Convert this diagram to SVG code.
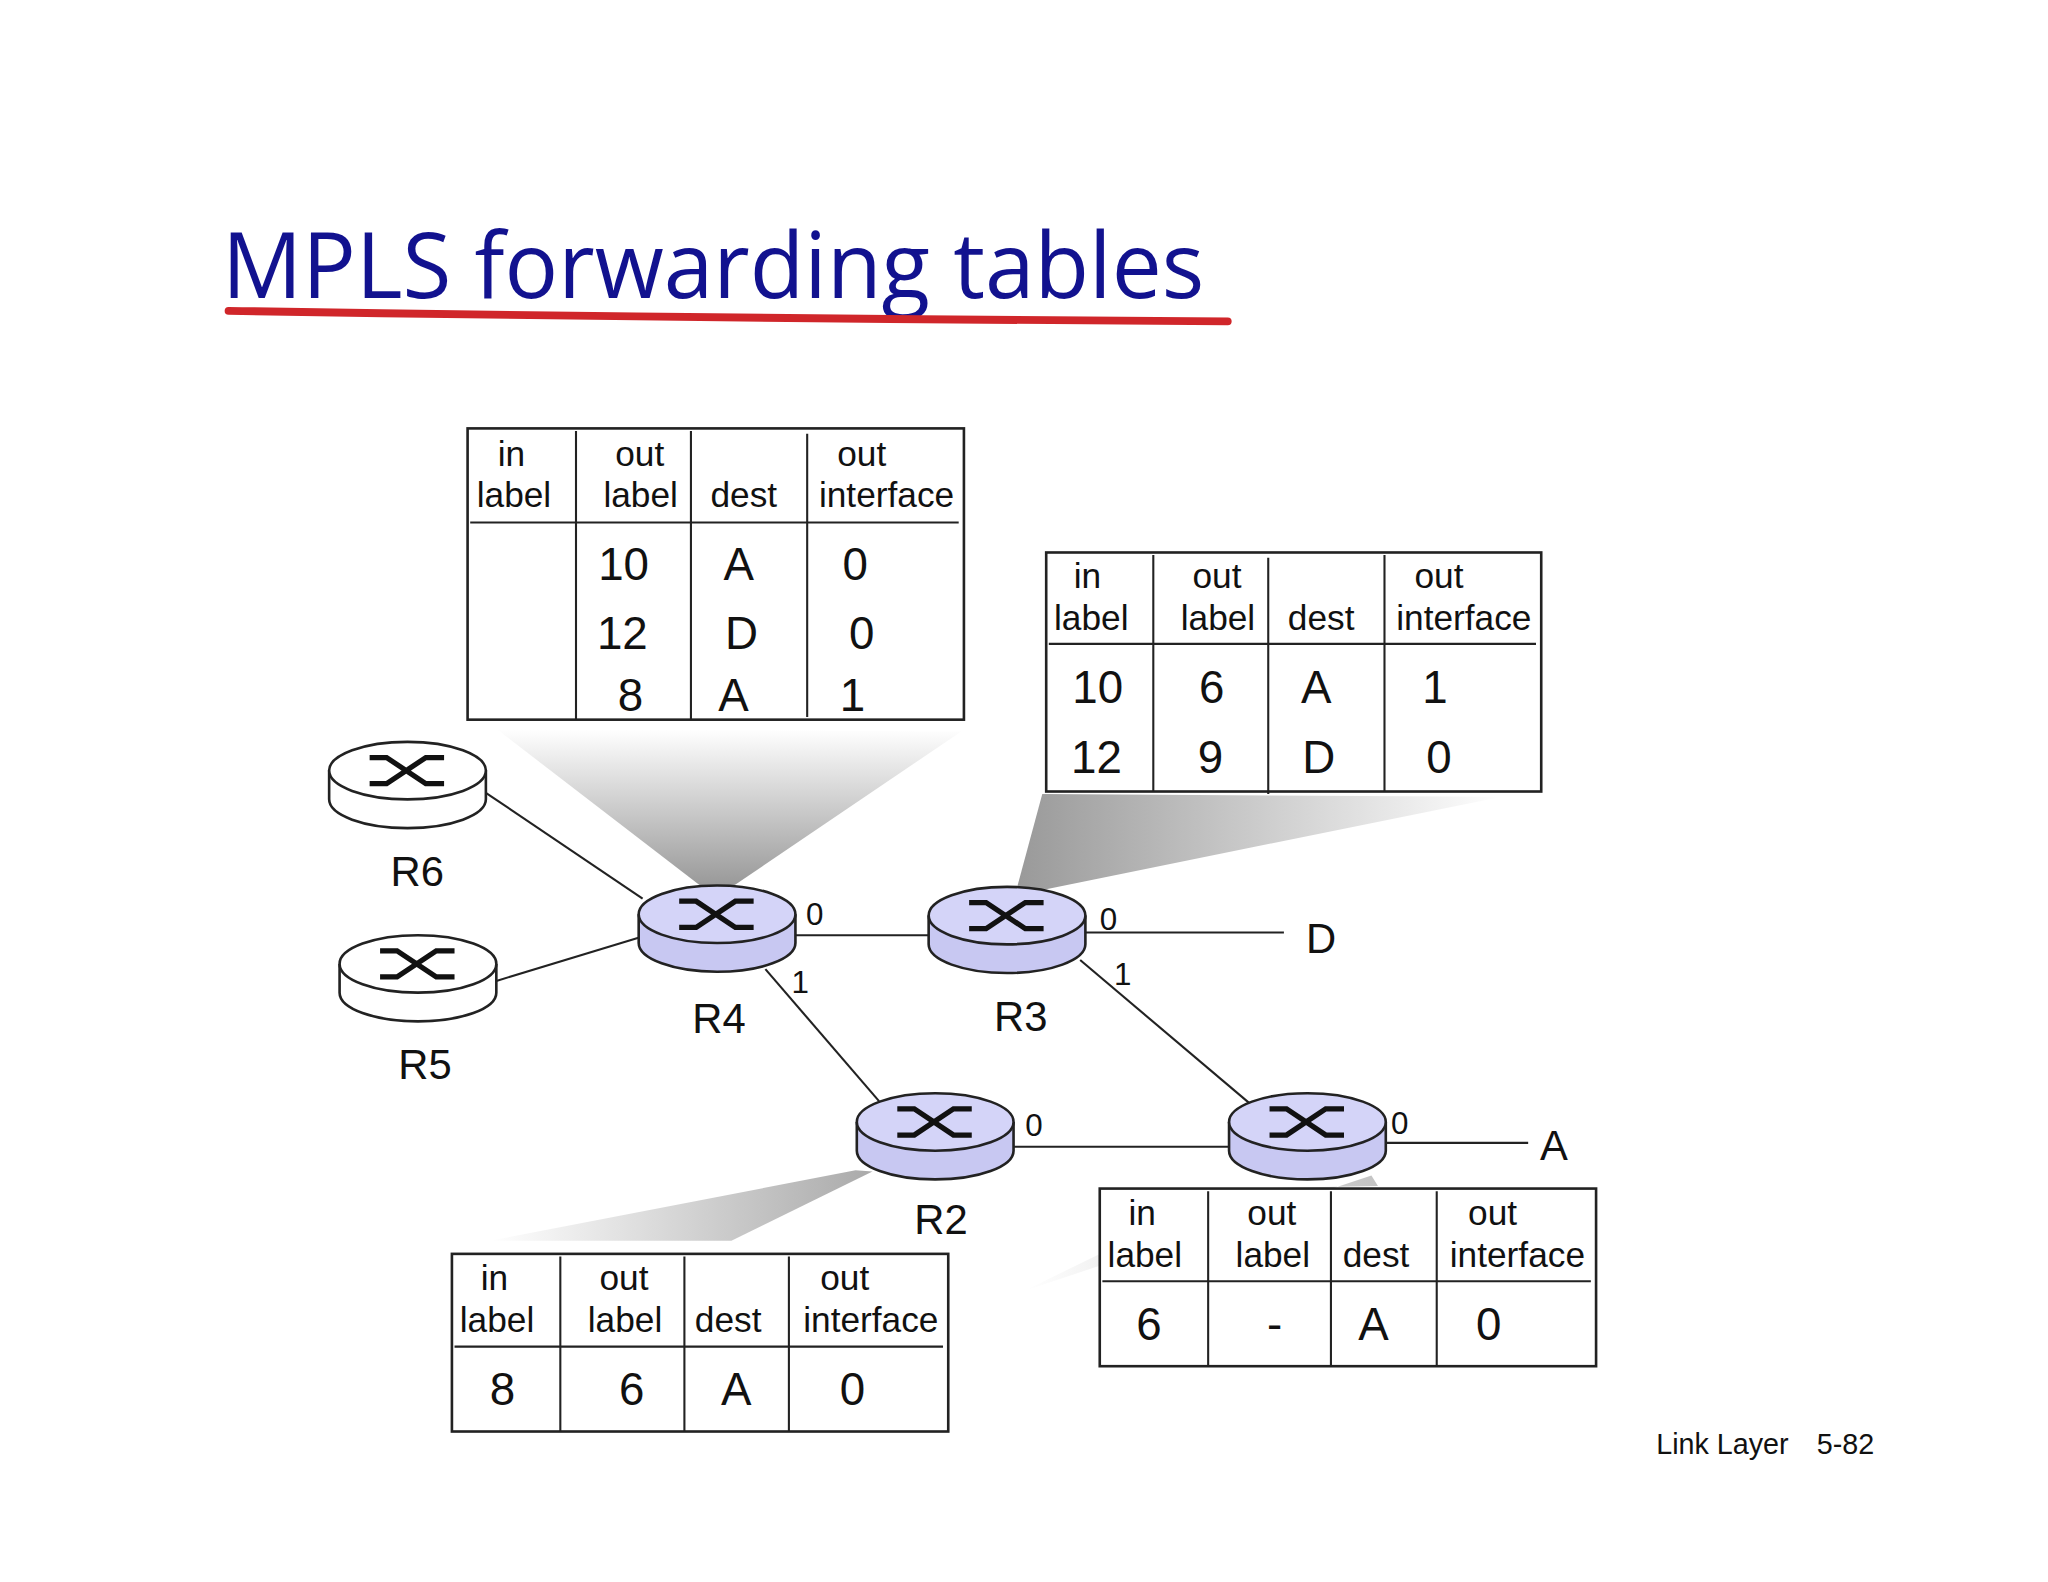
<svg xmlns="http://www.w3.org/2000/svg" width="2048" height="1582" viewBox="0 0 2048 1582">
<defs>
<style>
text{font-family:"Liberation Sans",Arial,sans-serif;fill:#111}
.h{font-size:27px}.d{font-size:35px}.p{font-size:24px}.r{font-size:32px}
.tb{fill:#fff;stroke:#222;stroke-width:2}
.ln{stroke:#222;stroke-width:1.6;fill:none}
.top{stroke:#222;stroke-width:2}
.sym{stroke:#111;stroke-width:4;fill:none}
</style>
<linearGradient id="gv" x1="0" y1="0" x2="0" y2="1"><stop offset="0" stop-color="#fff"/><stop offset="1" stop-color="#999"/></linearGradient>
<linearGradient id="gh" x1="1" y1="0" x2="0" y2="0"><stop offset="0" stop-color="#fff"/><stop offset="1" stop-color="#999"/></linearGradient>
<linearGradient id="gh2" x1="0" y1="0" x2="1" y2="0"><stop offset="0" stop-color="#fff"/><stop offset="1" stop-color="#aaa"/></linearGradient>
<g id="sy"><path class="sym" d="M-29,-10h13l30,20h14M-29,10h13l30,-20h14"/></g>
</defs>
<rect width="2048" height="1582" fill="#fff"/>
<g transform="scale(1.30612)">
<text x="170" y="228" textLength="752" lengthAdjust="spacingAndGlyphs" style="font-family:'Open Sans','DejaVu Sans',sans-serif;font-size:70px;fill:#12128f">MPLS forwarding tables</text>
<path d="M175,238 Q560,244 940,246" stroke="#d0262a" stroke-width="6" fill="none" stroke-linecap="round"/>

<!-- shadows -->
<polygon points="380,558 736,560 562,678 536,678" fill="url(#gv)"/>
<polygon points="798,608 1150,610 785,684 778,682" fill="url(#gh)"/>
<polygon points="375,950 560,950 668,897 655,896" fill="url(#gh2)"/>
<polygon points="785,988 842,960 842,912 1055,908 1050,900" fill="url(#gh2)" opacity="0.7"/>

<g id="connectors">
<line class="ln" x1="372" y1="607" x2="492" y2="688"/>
<line class="ln" x1="380" y1="751" x2="492" y2="717"/>
<line class="ln" x1="609" y1="716" x2="712" y2="716"/>
<line class="ln" x1="831" y1="714" x2="983" y2="714"/>
<line class="ln" x1="586" y1="742" x2="673" y2="843"/>
<line class="ln" x1="827" y1="735" x2="957" y2="845"/>
<line class="ln" x1="776" y1="878" x2="942" y2="878"/>
<line class="ln" x1="1061" y1="875" x2="1170" y2="875"/>
<text class="p" x="617" y="708">0</text><text class="p" x="606" y="760">1</text>
<text class="p" x="842" y="712">0</text><text class="p" x="853" y="754">1</text>
<text class="p" x="785" y="870">0</text><text class="p" x="1065" y="868">0</text>
<text class="r" x="1000" y="730">D</text><text class="r" x="1179" y="888">A</text>
</g>

<g id="R6"><path d="M252,590v22a60,22 0 0 0 120,0v-22" fill="#fff" stroke="#222" stroke-width="2"/><ellipse cx="312" cy="590" rx="60" ry="22" fill="#fff" class="top"/><use href="#sy" x="312" y="590"/><text class="r" x="299" y="678">R6</text></g>
<g id="R5"><path d="M260,738v22a60,22 0 0 0 120,0v-22" fill="#fff" stroke="#222" stroke-width="2"/><ellipse cx="320" cy="738" rx="60" ry="22" fill="#fff" class="top"/><use href="#sy" x="320" y="738"/><text class="r" x="305" y="826">R5</text></g>
<g id="R4"><path d="M489,700v22a60,22 0 0 0 120,0v-22" fill="#c8c8f2" stroke="#222" stroke-width="2"/><ellipse cx="549" cy="700" rx="60" ry="22" fill="#d4d4f8" class="top"/><use href="#sy" x="549" y="700"/><text class="r" x="530" y="791">R4</text></g>
<g id="R3"><path d="M711,701v22a60,22 0 0 0 120,0v-22" fill="#c8c8f2" stroke="#222" stroke-width="2"/><ellipse cx="771" cy="701" rx="60" ry="22" fill="#d4d4f8" class="top"/><use href="#sy" x="771" y="701"/><text class="r" x="761" y="789">R3</text></g>
<g id="R2"><path d="M656,859v22a60,22 0 0 0 120,0v-22" fill="#c8c8f2" stroke="#222" stroke-width="2"/><ellipse cx="716" cy="859" rx="60" ry="22" fill="#d4d4f8" class="top"/><use href="#sy" x="716" y="859"/><text class="r" x="700" y="945">R2</text></g>
<g id="R1"><path d="M941,859v22a60,22 0 0 0 120,0v-22" fill="#c8c8f2" stroke="#222" stroke-width="2"/><ellipse cx="1001" cy="859" rx="60" ry="22" fill="#d4d4f8" class="top"/><use href="#sy" x="1001" y="859"/></g>

<g id="table-R4">
<rect class="tb" x="358" y="328" width="380" height="223"/>
<path class="ln" d="M441,330V551M529,330V551M618,332V549M360,400H734"/>
<text class="h" x="381" y="357">in</text><text class="h" x="365" y="388">label</text>
<text class="h" x="471" y="357">out</text><text class="h" x="462" y="388">label</text>
<text class="h" x="544" y="388">dest</text>
<text class="h" x="641" y="357">out</text><text class="h" x="627" y="388">interface</text>
<text class="d" x="458" y="444">10</text><text class="d" x="554" y="444">A</text><text class="d" x="645" y="444">0</text>
<text class="d" x="457" y="497">12</text><text class="d" x="555" y="497">D</text><text class="d" x="650" y="497">0</text>
<text class="d" x="473" y="544">8</text><text class="d" x="550" y="544">A</text><text class="d" x="643" y="544">1</text>
</g>
<g id="table-R3">
<rect class="tb" x="801" y="423" width="379" height="183"/>
<path class="ln" d="M883,425V606M971,427V608M1060,425V606M803,493H1176"/>
<text class="h" x="822" y="450">in</text><text class="h" x="807" y="482">label</text>
<text class="h" x="913" y="450">out</text><text class="h" x="904" y="482">label</text>
<text class="h" x="986" y="482">dest</text>
<text class="h" x="1083" y="450">out</text><text class="h" x="1069" y="482">interface</text>
<text class="d" x="821" y="538">10</text><text class="d" x="918" y="538">6</text><text class="d" x="996" y="538">A</text><text class="d" x="1089" y="538">1</text>
<text class="d" x="820" y="592">12</text><text class="d" x="917" y="592">9</text><text class="d" x="997" y="592">D</text><text class="d" x="1092" y="592">0</text>
</g>
<g id="table-R2">
<rect class="tb" x="346" y="960" width="380" height="136"/>
<path class="ln" d="M429,962V1096M524,962V1096M604,962V1096M348,1031H722"/>
<text class="h" x="368" y="988">in</text><text class="h" x="352" y="1020">label</text>
<text class="h" x="459" y="988">out</text><text class="h" x="450" y="1020">label</text>
<text class="h" x="532" y="1020">dest</text>
<text class="h" x="628" y="988">out</text><text class="h" x="615" y="1020">interface</text>
<text class="d" x="375" y="1076">8</text><text class="d" x="474" y="1076">6</text><text class="d" x="552" y="1076">A</text><text class="d" x="643" y="1076">0</text>
</g>
<g id="table-R1">
<rect class="tb" x="842" y="910" width="380" height="136"/>
<path class="ln" d="M925,912V1046M1019,912V1046M1100,912V1046M844,981H1218"/>
<text class="h" x="864" y="938">in</text><text class="h" x="848" y="970">label</text>
<text class="h" x="955" y="938">out</text><text class="h" x="946" y="970">label</text>
<text class="h" x="1028" y="970">dest</text>
<text class="h" x="1124" y="938">out</text><text class="h" x="1110" y="970">interface</text>
<text class="d" x="870" y="1026">6</text><text class="d" x="970" y="1026">-</text><text class="d" x="1040" y="1026">A</text><text class="d" x="1130" y="1026">0</text>
</g>
<text x="1268" y="1113" style="font-size:22px">Link Layer</text>
<text x="1391" y="1113" style="font-size:22px">5-82</text>
</g>
</svg>
